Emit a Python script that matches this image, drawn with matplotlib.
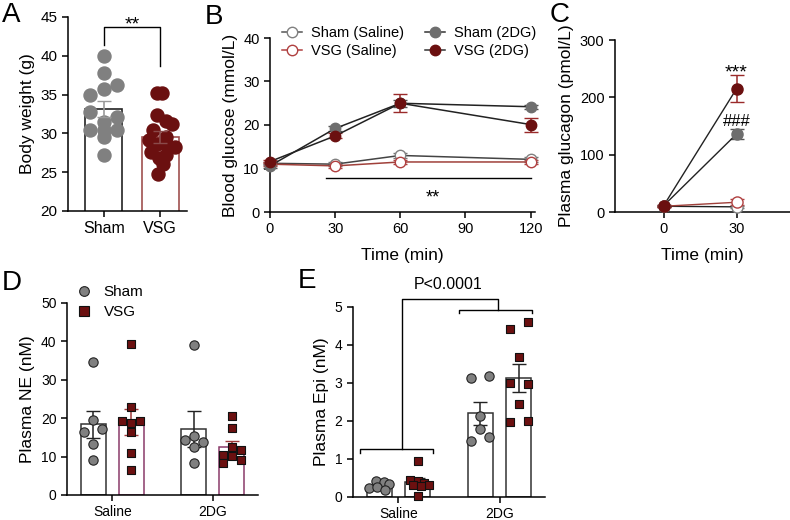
import matplotlib
matplotlib.use("Agg")
import matplotlib.pyplot as plt
from matplotlib.lines import Line2D
import numpy as np

plt.rcParams['font.family'] = ['Liberation Sans', 'DejaVu Sans']
plt.rcParams['axes.linewidth'] = 1.1
plt.rcParams['xtick.major.width'] = 1.1
plt.rcParams['ytick.major.width'] = 1.1
plt.rcParams['xtick.major.size'] = 4
plt.rcParams['ytick.major.size'] = 4

GRAY = '#808080'
DGRAY = '#6e6e6e'
RED = '#6b1010'
ERR_RED = '#9a2a2a'

# ---- A: body weight ----
a_groups = ['Sham', 'VSG']
a_sham = [40.0, 37.8, 36.2, 35.7, 34.9, 32.7, 32.1, 31.5, 30.5, 30.5, 30.5, 29.6, 27.2]
a_vsg = [35.2, 35.2, 32.4, 31.6, 31.2, 30.5, 29.6, 29.2, 28.6, 28.5, 28.3, 27.6, 27.2, 26.8, 26.0, 24.8]
a_mean = [33.1, 29.5]
a_sem = [1.05, 0.8]

# ---- B: blood glucose ----
b_time = [0, 30, 60, 120]
b_sham_sal = [11.2, 11.0, 13.0, 12.1]
b_vsg_sal = [11.0, 10.6, 11.5, 11.5]
b_sham_2dg = [10.6, 19.2, 25.0, 24.2]
b_vsg_2dg = [11.6, 17.5, 25.0, 20.1]
b_sham_sal_sem = [0.4, 0.4, 0.6, 0.5]
b_vsg_sal_sem = [0.4, 0.4, 0.5, 0.5]
b_sham_2dg_sem = [0.4, 0.6, 0.8, 0.5]
b_vsg_2dg_sem = [0.4, 0.6, 2.1, 1.6]

# ---- C: plasma glucagon ----
c_time = [0, 30]
c_sham_sal = [10, 9]
c_vsg_sal = [10, 17]
c_sham_2dg = [11, 136]
c_vsg_2dg = [11, 215]
c_sham_sal_sem = [1, 2]
c_vsg_sal_sem = [1, 5]
c_sham_2dg_sem = [1, 9]
c_vsg_2dg_sem = [2, 24]

# ---- D: plasma NE ----
de_groups = ['Saline', '2DG']
d_sham = [[34.6, 19.6, 16.5, 17.2, 13.2, 9.2],
          [39.1, 14.3, 15.4, 13.7, 12.6, 8.3]]
d_vsg = [[39.2, 23.0, 19.2, 19.2, 18.7, 16.3, 11.0, 6.4],
         [20.5, 17.4, 12.4, 11.8, 10.5, 10.1, 9.1, 8.3]]
d_sham_mean = [18.4, 17.2]
d_sham_sem = [3.6, 4.6]
d_vsg_mean = [19.0, 12.5]
d_vsg_sem = [3.4, 1.5]

# ---- E: plasma Epi ----
e_sham = [[0.41, 0.39, 0.35, 0.25, 0.26, 0.19],
          [3.14, 3.18, 2.14, 1.78, 1.47, 1.58]]
e_vsg = [[0.96, 0.44, 0.42, 0.38, 0.32, 0.31, 0.28, 0.02],
         [4.42, 4.61, 3.69, 3.01, 2.97, 2.44, 1.97, 2.01]]
e_sham_mean = [0.30, 2.20]
e_sham_sem = [0.04, 0.31]
e_vsg_mean = [0.40, 3.13]
e_vsg_sem = [0.1, 0.36]

W, H = 790, 520
fig = plt.figure(figsize=(W / 100, H / 100), dpi=100)


def px_axes(left, top, right, bottom):
    ax = fig.add_axes([left / W, 1 - bottom / H, (right - left) / W, (bottom - top) / H])
    ax.spines['top'].set_visible(False)
    ax.spines['right'].set_visible(False)
    ax.patch.set_alpha(0)
    return ax


def letter(px, py, s):
    fig.text(px / W, 1 - py / H, s, fontsize=20, ha='left', va='top')


# ================= A =================
ax = px_axes(68, 17, 187, 211)
xa = np.arange(2)
ax.bar(xa, a_mean, width=0.66, color='white', edgecolor=['#222222', '#a0504f'],
       linewidth=1.2, zorder=1)
sham_off = [0, 0, 0.24, 0, -0.24, -0.24, 0.24, 0, -0.24, 0, 0.24, 0, 0]
vsg_off = [-0.06, 0.04, -0.05, 0.1, 0.22, -0.12, 0.1, -0.2, -0.05, 0.12, 0.26,
           -0.16, 0.1, -0.02, 0.05, -0.04]
ax.scatter(np.array(sham_off) + xa[0], a_sham, s=88, color=GRAY, zorder=2, clip_on=False)
ax.scatter(np.array(vsg_off) + xa[1], a_vsg, s=88, color=RED, zorder=2, clip_on=False)
for i, c in enumerate(['#9a9a9a', '#8a4a4a']):
    ax.errorbar(xa[i], a_mean[i], yerr=a_sem[i], color=c, capsize=5, lw=1.2, zorder=3)
ax.set_ylim(20, 45)
ax.set_xlim(-0.64, 1.48)
ax.set_yticks([20, 25, 30, 35, 40, 45])
ax.set_xticks(xa)
ax.set_xticklabels(a_groups, fontsize=11.5)
ax.tick_params(axis='y', labelsize=11)
ax.set_ylabel('Body weight (g)', fontsize=12.5)
ax.plot([0, 0, 1, 1], [41.4, 43.7, 43.7, 38.7], color='k', lw=1, clip_on=False)
ax.text(0.5, 43.4, '**', ha='center', va='baseline', fontsize=14)
letter(2, 2, 'A')

# ================= B =================
ax = px_axes(270, 38, 535, 212)
series = [
    (b_sham_sal, b_sham_sal_sem, '#444444', 'white', GRAY, '#777777', 'Sham (Saline)'),
    (b_vsg_sal, b_vsg_sal_sem, '#a0403a', 'white', '#b04040', '#b04040', 'VSG (Saline)'),
    (b_sham_2dg, b_sham_2dg_sem, '#222222', DGRAY, DGRAY, '#555555', 'Sham (2DG)'),
    (b_vsg_2dg, b_vsg_2dg_sem, '#222222', RED, RED, ERR_RED, 'VSG (2DG)'),
]
handles = []
for y, e, lc, fc, mec, ec, lab in series:
    ax.errorbar(b_time, y, yerr=e, fmt='none', ecolor=ec, capsize=5, lw=1.1, clip_on=False)
    ax.plot(b_time, y, '-', color=lc, lw=1.1, zorder=3, clip_on=False)
    ax.plot(b_time, y, 'o', ms=7.5, mfc=fc, mec=mec, mew=1.0, zorder=4, clip_on=False)
    handles.append(Line2D([], [], color=lc if fc == 'white' else '#333333', lw=1.1,
                          marker='o', ms=7.5, mfc=fc, mec=mec, label=lab))
handles[0].set_color('#555555')
handles[1].set_color('#b04040')
ax.set_xlim(0, 122)
ax.set_ylim(0, 40)
ax.set_xticks([0, 30, 60, 90, 120])
ax.set_yticks([0, 10, 20, 30, 40])
ax.tick_params(labelsize=10.5)
ax.set_ylabel('Blood glucose (mmol/L)', fontsize=12.5)
ax.set_xlabel('Time (min)', fontsize=12.5, labelpad=8)
ax.plot([26, 120], [7.8, 7.8], color='k', lw=1)
ax.text(75, 2.3, '**', ha='center', va='baseline', fontsize=13)
fig.legend(handles=handles, loc='upper left', bbox_to_anchor=(282 / W, 1 - 26 / H),
           ncol=2, frameon=False, fontsize=10.5, handlelength=1.4, handletextpad=0.6,
           columnspacing=1.4, labelspacing=0.25, borderpad=0, borderaxespad=0)
letter(205, 4, 'B')

# ================= C =================
ax = px_axes(615, 40, 790, 212)
cseries = [
    (c_sham_sal, c_sham_sal_sem, '#222222', 'white', GRAY, '#777777'),
    (c_vsg_sal, c_vsg_sal_sem, '#a0403a', 'white', '#b04040', '#b04040'),
    (c_sham_2dg, c_sham_2dg_sem, '#222222', DGRAY, DGRAY, '#555555'),
    (c_vsg_2dg, c_vsg_2dg_sem, '#222222', RED, RED, ERR_RED),
]
for y, e, lc, fc, mec, ec in cseries:
    ax.errorbar(c_time, y, yerr=e, fmt='none', ecolor=ec, capsize=5, lw=1.1, clip_on=False)
    ax.plot(c_time, y, '-', color=lc, lw=1.0, zorder=3, clip_on=False)
    ax.plot(c_time, y, 'o', ms=8, mfc=fc, mec=mec, mew=1.0, zorder=4, clip_on=False)
ax.set_xlim(-20, 52)
ax.set_ylim(0, 300)
ax.set_xticks([0, 30])
ax.set_yticks([0, 100, 200, 300])
ax.tick_params(labelsize=10.5)
ax.set_ylabel('Plasma glucagon (pmol/L)', fontsize=12.5)
ax.set_xlabel('Time (min)', fontsize=12.5, labelpad=8)
ax.text(30, 234, '***', ha='center', va='baseline', fontsize=14)
ax.text(30, 150, '###', ha='center', va='baseline', fontsize=12)
letter(550, 2, 'C')


# ================= D / E helpers =================
def dot_bars(ax, sham, vsg, sham_mean, sham_sem, vsg_mean, vsg_sem, vsg_edge, vsg_err,
             sham_off, vsg_off):
    xg = np.arange(2)
    ax.bar(xg - 0.19, sham_mean, width=0.25, color='white', edgecolor='#333333', lw=1.1, zorder=1)
    ax.bar(xg + 0.19, vsg_mean, width=0.25, color='white', edgecolor=vsg_edge, lw=1.1, zorder=1)
    ax.errorbar(xg - 0.19, sham_mean, yerr=sham_sem, fmt='none', ecolor='#222222',
                capsize=5, lw=1.1, zorder=2)
    ax.errorbar(xg + 0.19, vsg_mean, yerr=vsg_sem, fmt='none', ecolor=vsg_err,
                capsize=5, lw=1.1, zorder=2)
    for g in range(2):
        ax.scatter(xg[g] - 0.19 + np.array(sham_off[g]), sham[g], s=45, marker='o',
                   color=GRAY, edgecolor='#222222', lw=0.8, zorder=3, clip_on=False)
        ax.scatter(xg[g] + 0.19 + np.array(vsg_off[g]), vsg[g], s=40, marker='s',
                   color=RED, edgecolor='#111111', lw=0.8, zorder=3, clip_on=False)
    ax.set_xlim(-0.45, 1.45)
    ax.set_xticks(xg)
    ax.set_xticklabels(de_groups)
    ax.tick_params(labelsize=10)


# ================= D =================
ax = px_axes(67, 303, 258, 495)
d_sham_off = [[0, 0, -0.09, 0.09, 0, 0], [0, -0.09, 0, 0.09, 0, 0]]
d_vsg_off = [[0, 0, -0.09, 0.09, 0, 0, 0, 0], [0, 0, 0, 0.09, -0.09, 0, 0.09, -0.09]]
dot_bars(ax, d_sham, d_vsg, d_sham_mean, d_sham_sem, d_vsg_mean, d_vsg_sem,
         '#8a3a6a', '#a03a3a', d_sham_off, d_vsg_off)
ax.set_ylim(0, 50)
ax.set_yticks([0, 10, 20, 30, 40, 50])
ax.set_ylabel('Plasma NE (nM)', fontsize=12.5)
leg_h = [Line2D([], [], ls='none', marker='o', ms=7, mfc=GRAY, mec='#222222', mew=0.8, label='Sham'),
         Line2D([], [], ls='none', marker='s', ms=6.5, mfc=RED, mec='#111111', mew=0.8, label='VSG')]
fig.legend(handles=leg_h, loc='upper left', bbox_to_anchor=(76 / W, 1 - 285 / H),
           frameon=False, fontsize=11, handlelength=1.0, handletextpad=0.8,
           labelspacing=0.4, borderpad=0, borderaxespad=0)
letter(2, 270, 'D')

# ================= E =================
ax = px_axes(353, 307, 545, 497)
e_sham_off = [[-0.03, 0.05, 0.1, -0.1, -0.02, 0.06], [-0.09, 0.09, 0, 0, -0.09, 0.09]]
e_vsg_off = [[0, -0.08, 0, 0.06, 0.11, -0.05, 0.03, 0], [-0.09, 0.09, 0, -0.09, 0.09, 0, -0.09, 0.09]]
dot_bars(ax, e_sham, e_vsg, e_sham_mean, e_sham_sem, e_vsg_mean, e_vsg_sem,
         '#333333', '#222222', e_sham_off, e_vsg_off)
ax.set_ylim(0, 5)
ax.set_yticks([0, 1, 2, 3, 4, 5])
ax.set_ylabel('Plasma Epi (nM)', fontsize=12.5)
ax.plot([-0.38, -0.38, 0.34, 0.34], [1.16, 1.26, 1.26, 1.16], color='k', lw=1, clip_on=False)
ax.plot([0.6, 0.6, 1.32, 1.32], [4.84, 4.93, 4.93, 4.84], color='k', lw=1, clip_on=False)
ax.plot([0.03, 0.03, 0.98, 0.98], [1.26, 5.2, 5.2, 4.93], color='k', lw=1, clip_on=False)
ax.text(0.49, 5.4, 'P<0.0001', ha='center', va='bottom', fontsize=11.5)
letter(298, 268, 'E')

fig.savefig('out.png', dpi=100)
